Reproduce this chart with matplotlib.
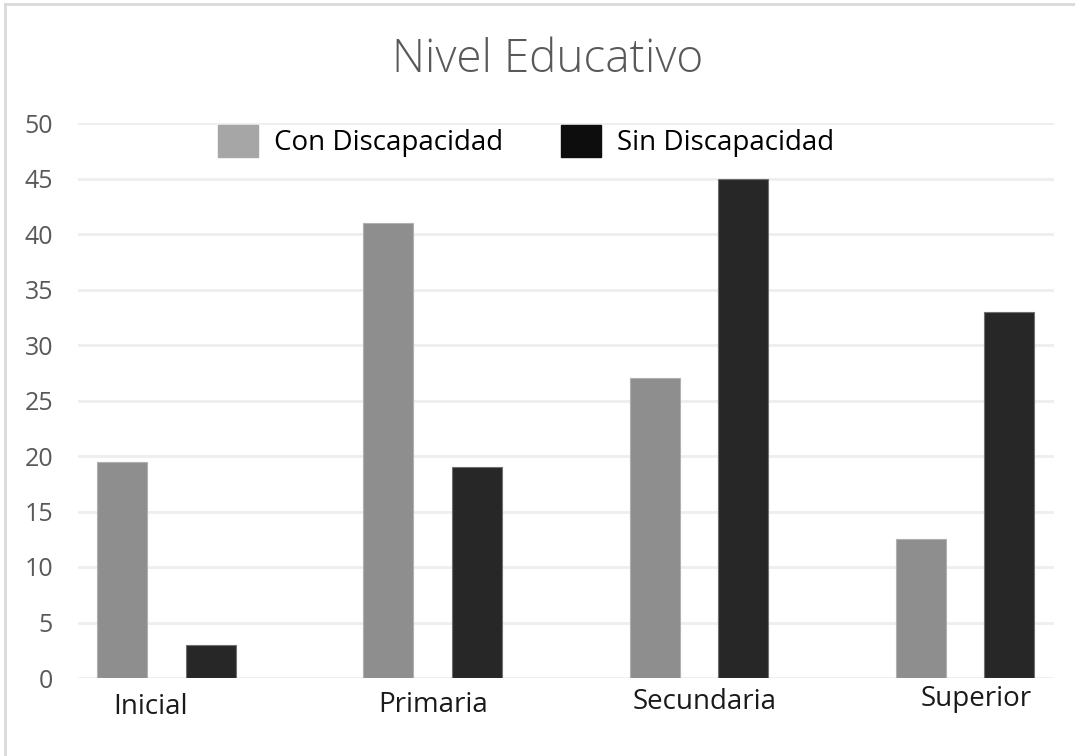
import matplotlib
matplotlib.use("Agg")
import matplotlib.pyplot as plt
import matplotlib.patches as mpatches
import numpy as np

plt.rcParams['font.family'] = ['Open Sans', 'DejaVu Sans']

# data
niveles = ['Inicial', 'Primaria', 'Secundaria', 'Superior']
con_discapacidad = [19.5, 41, 27, 12.5]
sin_discapacidad = [3, 19, 45, 33]
series_labels = ['Con Discapacidad', 'Sin Discapacidad']
y_ticks = [0, 5, 10, 15, 20, 25, 30, 35, 40, 45, 50]

bar_colors = ['#8e8e8e', '#272727']
legend_colors = ['#a6a6a6', '#0d0d0d']

fig = plt.figure(figsize=(10.75, 7.56), dpi=100)
ax = fig.add_axes([78 / 1075, 1 - 678 / 756, (1054 - 78) / 1075, (678 - 123) / 756])

x = np.arange(len(niveles))
w = 0.188
ax.bar(x - 0.166, con_discapacidad, w, color=bar_colors[0], edgecolor='#b0b0b0', linewidth=0.8, zorder=3)
ax.bar(x + 0.166, sin_discapacidad, w, color=bar_colors[1], edgecolor='#707070', linewidth=0.8, zorder=3)

ax.set_xlim(-0.332, 3.334)
ax.set_ylim(0, 50)
ax.set_yticks(y_ticks)
ax.yaxis.grid(True, color='#eeeeee', linewidth=2, zorder=0)
ax.set_xticks([])
for s in ax.spines.values():
    s.set_visible(False)
ax.tick_params(axis='y', length=0, labelsize=18, labelcolor='#595959', pad=18)

# category labels sit a bit uneven in the original
label_pos = [(151, 707), (433, 705), (705, 702), (976, 699)]
for name, (px, py) in zip(niveles, label_pos):
    fig.text(px / 1075, 1 - py / 756, name, ha='center', va='center', fontsize=20, color='#1a1a1a')

fig.text(548 / 1075, 1 - 60 / 756, 'Nivel Educativo', ha='center', va='center',
         fontsize=33, color='#595959', fontweight='light')

handles = [mpatches.Patch(color=c) for c in legend_colors]
fig.legend(handles, series_labels, loc='center', bbox_to_anchor=(526 / 1075, 1 - 141 / 756),
           ncol=2, frameon=False, fontsize=20, handlelength=1.44, handleheight=1.44,
           handletextpad=0.58, columnspacing=2.1, borderpad=0, borderaxespad=0)

# light border like the pasted picture
fig.add_artist(plt.Line2D([5 / 1075, 5 / 1075], [0, 1 - 4 / 756], color='#d9d9d9', linewidth=2))
fig.add_artist(plt.Line2D([5 / 1075, 1], [1 - 4 / 756, 1 - 4 / 756], color='#d9d9d9', linewidth=2))

plt.savefig('out.png', dpi=100)
